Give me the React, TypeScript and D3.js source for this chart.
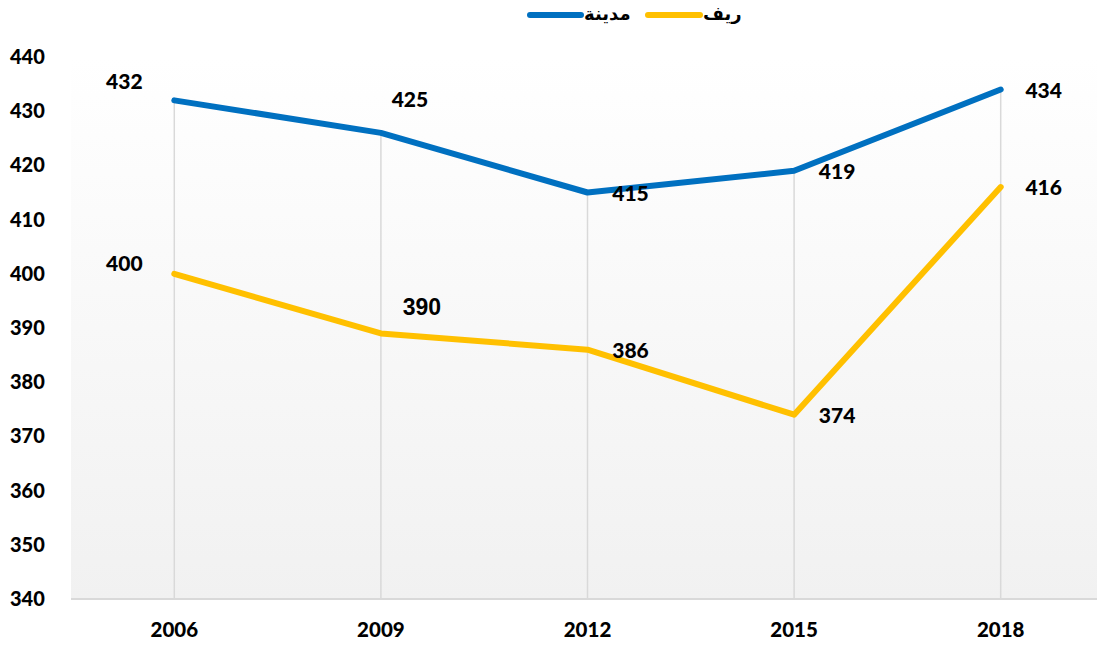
import React from "react";
import * as d3 from "d3";

const years = ["2006", "2009", "2012", "2015", "2018"];
const city = [432, 426, 415, 419, 434];
const rural = [400, 389, 386, 374, 416];
const cityLabels = ["432", "425", "415", "419", "434"];
const ruralLabels = ["400", "390", "386", "374", "416"];
const yTicks = [340, 350, 360, 370, 380, 390, 400, 410, 420, 430, 440];
const seriesNames = ["مدينة", "ريف"];

const W = 1097;
const H = 645;
const margin = { top: 57, right: -7, bottom: 47, left: 71 };

// label placement relative to the point
const labelOffsets: Record<string, [number, number]> = {
  upLeft: [-50, -19],
  left: [-50, -10],
  above: [29, -33],
  aboveBig: [41, -26],
  right: [43, 1],
};
const cityPlace = ["upLeft", "above", "right", "right", "right"];
const ruralPlace = ["left", "aboveBig", "right", "right", "right"];

export default function App() {
  const x = d3
    .scaleBand()
    .domain(years)
    .range([margin.left, W - margin.right])
    .padding(0);
  const y = d3
    .scaleLinear()
    .domain([340, 440])
    .range([H - margin.bottom + 1, margin.top]);

  const cx = (d: string) => (x(d) ?? 0) + x.bandwidth() / 2;
  const line = d3
    .line<number>()
    .x((_, i) => cx(years[i]))
    .y((v) => y(v));

  const font = "Lato, 'Open Sans', sans-serif";
  const weight = 900;
  const baseY = y(340);

  const series = [
    { name: seriesNames[0], values: city, labels: cityLabels, place: cityPlace, color: "#0070C0" },
    { name: seriesNames[1], values: rural, labels: ruralLabels, place: ruralPlace, color: "#FFC000" },
  ];

  return (
    <svg width={W} height={H} style={{ display: "block", position: "absolute", left: 0, top: 0 }}>
      <defs>
        <linearGradient id="bg" x1="0" y1="0" x2="0" y2="1">
          <stop offset="0%" stopColor="#ffffff" />
          <stop offset="100%" stopColor="#f1f1f1" />
        </linearGradient>
      </defs>
      <rect x={0} y={0} width={W} height={H} fill="#fff" />
      <rect
        x={margin.left}
        y={margin.top}
        width={W - margin.left}
        height={baseY - margin.top}
        fill="url(#bg)"
      />

      {/* drop lines */}
      {years.map((yr, i) => (
        <line
          key={yr}
          x1={cx(yr)}
          x2={cx(yr)}
          y1={y(Math.max(city[i], rural[i]))}
          y2={baseY}
          stroke="#d9d9d9"
          strokeWidth={1.5}
        />
      ))}

      {/* x axis line */}
      <line x1={margin.left} x2={W} y1={baseY} y2={baseY} stroke="#d9d9d9" strokeWidth={2} />

      {/* y tick labels */}
      {yTicks.map((t) => (
        <text
          key={t}
          x={10}
          y={y(t)}
          dy="0.35em"
          fontFamily={font}
          fontWeight={weight}
          fontSize={20}
          fill="#000"
        >
          {t}
        </text>
      ))}

      {/* x tick labels */}
      {years.map((yr) => (
        <text
          key={yr}
          x={cx(yr)}
          y={630}
          textAnchor="middle"
          dy="0.35em"
          fontFamily={font}
          fontWeight={weight}
          fontSize={20.5}
          fill="#000"
        >
          {yr}
        </text>
      ))}

      {series.map((s) => (
        <g key={s.name}>
          <path
            d={line(s.values) ?? ""}
            fill="none"
            stroke={s.color}
            strokeWidth={6}
            strokeLinecap="round"
            strokeLinejoin="round"
          />
          {s.values.map((v, i) => {
            const [dx, dy] = labelOffsets[s.place[i]];
            const big = s.place[i] === "aboveBig";
            return (
              <text
                key={i}
                x={cx(years[i]) + dx}
                y={y(v) + dy}
                dy="0.35em"
                textAnchor="middle"
                fontFamily={big ? "'Liberation Sans', Arial, sans-serif" : font}
                fontWeight={big ? 700 : weight}
                fontSize={big ? 23 : 21}
                fill="#000"
              >
                {s.labels[i]}
              </text>
            );
          })}
        </g>
      ))}

      {/* legend */}
      <g>
        <line x1={530} x2={581} y1={15} y2={15} stroke="#0070C0" strokeWidth={6} strokeLinecap="round" />
        <text x={584} y={14} dy="0.35em" fontFamily="'DejaVu Sans', sans-serif" fontWeight={700} fontSize={18} fill="#000">
          {seriesNames[0]}
        </text>
        <line x1={648} x2={700} y1={15} y2={15} stroke="#FFC000" strokeWidth={6} strokeLinecap="round" />
        <text x={703} y={14} dy="0.35em" fontFamily="'DejaVu Sans', sans-serif" fontWeight={700} fontSize={18} fill="#000">
          {seriesNames[1]}
        </text>
      </g>
    </svg>
  );
}
